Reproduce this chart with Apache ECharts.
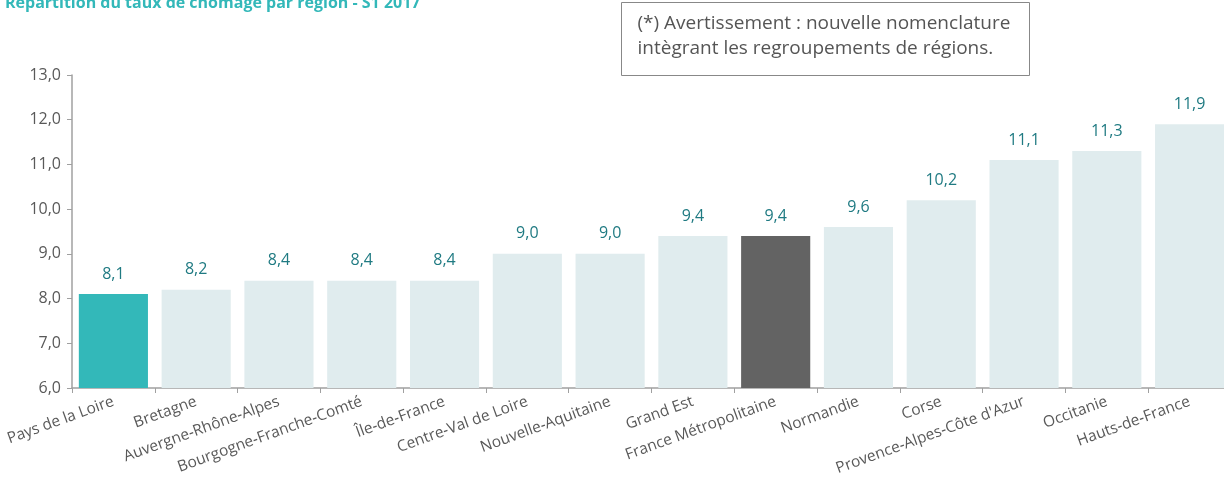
<!DOCTYPE html>
<html><head><meta charset="utf-8">
<script src="https://cdn.jsdelivr.net/npm/echarts@6/dist/echarts.min.js"></script>
<style>html,body{margin:0;padding:0;background:#fff}#c{width:1224px;height:485px}</style>
</head><body><div id="c"></div>
<script>
const titleText = "Répartition du taux de chômage par région - S1 2017";
const noteLines = ["(*) Avertissement : nouvelle nomenclature", "intègrant les regroupements de régions."];
const categories = ["Pays de la Loire","Bretagne","Auvergne-Rhône-Alpes","Bourgogne-Franche-Comté","Île-de-France","Centre-Val de Loire","Nouvelle-Aquitaine","Grand Est","France Métropolitaine","Normandie","Corse","Provence-Alpes-Côte d'Azur","Occitanie","Hauts-de-France"];
const values = [8.1,8.2,8.4,8.4,8.4,9.0,9.0,9.4,9.4,9.6,10.2,11.1,11.3,11.9];
const yTicks = {min:6, max:13, interval:1};
const colors = {highlight:"#33b8b9", ref:"#636363", other:"#e0ecee"};
const highlightName = "Pays de la Loire", refName = "France Métropolitaine";

const font = "'Open Sans', 'Noto Sans', sans-serif";
const chart = echarts.init(document.getElementById('c'));
chart.setOption({
  animation:false,
  title:{text:titleText, left:0, top:-10, textStyle:{color:"#33b8b9", fontSize:16, fontWeight:"bold", fontFamily:font}},
  graphic:[{type:'group', left:621, top:2, children:[
    {type:'rect', shape:{x:0,y:0,width:408,height:73}, style:{fill:'#fff', stroke:'#888', lineWidth:1}},
    {type:'text', x:16, y:9, style:{text:noteLines.join("\n"), font:"19px " + font, fill:'#555', lineHeight:25}}
  ]}],
  grid:{left:72, width:1159, top:75, bottom:97, containLabel:false, outerBoundsMode:'none'},
  xAxis:{type:'category', data:categories,
    axisLine:{lineStyle:{color:'#a0a0a0', width:1.5}},
    axisTick:{show:true, length:5, lineStyle:{color:'#a0a0a0'}},
    axisLabel:{rotate:20, interval:0, margin:13, color:'#595959', fontSize:15.5, fontFamily:font}},
  yAxis:{type:'value', min:yTicks.min, max:yTicks.max, interval:yTicks.interval,
    axisLine:{show:true, lineStyle:{color:'#a0a0a0', width:1.5}},
    axisTick:{show:true, length:5, lineStyle:{color:'#a0a0a0'}},
    splitLine:{show:false},
    axisLabel:{color:'#595959', fontSize:16, fontFamily:font, margin:11,
      formatter:v=>v.toFixed(1).replace('.',',')}},
  series:[{type:'bar', barCategoryGap:'16.5%',
    data:values.map((v,i)=>({value:v, itemStyle:{color: categories[i]===highlightName?colors.highlight:(categories[i]===refName?colors.ref:colors.other)}})),
    label:{show:true, position:'top', distance:12, color:'#1f7a82', fontSize:16, fontFamily:font,
      formatter:p=>p.value.toFixed(1).replace('.',',')}
  }]
});
</script></body></html>
